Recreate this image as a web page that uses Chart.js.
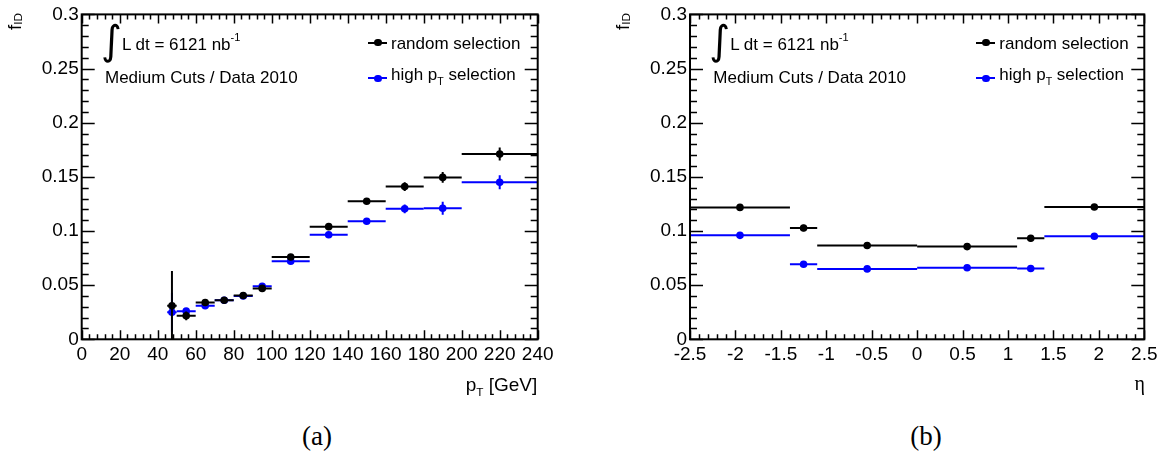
<!DOCTYPE html>
<html>
  <head>
    <script src="https://cdn.jsdelivr.net/npm/chart.js"></script>
  </head>
  <style>
    body {
      margin: 0;
      background: white;
    }
    #page {
      position: relative;
      width: 1164px;
      height: 457px;
      background: white;
      overflow: hidden;
    }
    canvas {
      position: absolute;
      top: 0;
    }
    .t {
      position: absolute;
      font-family: 'Liberation Sans', Arial, sans-serif;
      line-height: 1;
      white-space: nowrap;
      color: black;
    }
    .serif {
      font-family: 'Liberation Serif', 'Times New Roman', serif;
    }
    .sub {
      position: relative;
      font-size: 0.62em;
    }
    .mark {
      position: absolute;
    }
  </style>
  <body>
    <div id="page">
      <canvas id="ptChart" width="580" height="400" style="left:0px"></canvas>
      <canvas id="etaChart" width="584" height="400" style="left:580px"></canvas>
    </div>
    <script>
      // (a) photon pT bins
      const PT_CENTER = [47.5, 55, 65, 75, 85, 95, 110, 130, 150, 170, 190, 220];
      const PT_LOW = [45, 50, 60, 70, 80, 90, 100, 120, 140, 160, 180, 200];
      const PT_HIGH = [50, 60, 70, 80, 90, 100, 120, 140, 160, 180, 200, 240];
      const PT_RANDOM = [0.031, 0.0217, 0.034, 0.036, 0.0405, 0.047, 0.076, 0.104, 0.1275, 0.141, 0.1495, 0.171];
      const PT_RANDOM_ERR = [0.032, 0.004, 0.002, 0.0015, 0.0015, 0.002, 0.002, 0.002, 0.002, 0.004, 0.005, 0.006];
      const PT_HIGHPT = [0.025, 0.026, 0.031, 0.036, 0.040, 0.049, 0.072, 0.0965, 0.109, 0.1205, 0.121, 0.145];
      const PT_HIGHPT_ERR = [0.018, 0.002, 0.0015, 0.0015, 0.0015, 0.002, 0.002, 0.002, 0.002, 0.004, 0.006, 0.0065];

      // (b) eta bins
      const ETA_CENTER = [-1.95, -1.25, -0.55, 0.55, 1.25, 1.95];
      const ETA_LOW = [-2.5, -1.4, -1.1, 0, 1.1, 1.4];
      const ETA_HIGH = [-1.4, -1.1, 0, 1.1, 1.4, 2.5];
      const ETA_RANDOM = [0.1218, 0.1028, 0.0866, 0.0856, 0.0933, 0.1221];
      const ETA_RANDOM_ERR = [0.0015, 0.003, 0.001, 0.001, 0.003, 0.0015];
      const ETA_HIGHPT = [0.096, 0.0693, 0.065, 0.066, 0.0654, 0.0951];
      const ETA_HIGHPT_ERR = [0.001, 0.0015, 0.001, 0.001, 0.0015, 0.001];

      // axis ranges and tick steps
      const Y_RANGE = [0, 0.3];
      const Y_MAJOR = 0.05;
      const Y_MINOR = 0.01;
      const PT_RANGE = [0, 240];
      const PT_MAJOR = 20;
      const PT_MINOR = 4;
      const ETA_RANGE = [-2.5, 2.5];
      const ETA_MAJOR = 0.5;
      const ETA_MINOR = 0.1;

      const SERIES_NAMES = ['random selection', 'high p<span class="sub" style="top:5px">T</span> selection'];
      const COLORS = ['#000000', '#0000ff'];

      const makePoints = (centers, lows, highs, values, errs) =>
        centers.map((c, i) => ({ x: c, y: values[i], xlo: lows[i], xhi: highs[i], ey: errs[i] }));

      // horizontal bin width + vertical error, drawn just before each dataset's markers
      const errorBars = {
        id: 'errorBars',
        beforeDatasetDraw(chart, args) {
          const ds = chart.data.datasets[args.index];
          const { ctx, chartArea: a, scales: { x, y } } = chart;
          ctx.save();
          ctx.beginPath();
          ctx.rect(a.left, a.top, a.right - a.left, a.bottom - a.top);
          ctx.clip();
          ctx.strokeStyle = ds.borderColor;
          ctx.lineWidth = 2;
          ds.data.forEach(p => {
            const py = y.getPixelForValue(p.y);
            const px = x.getPixelForValue(p.x);
            ctx.beginPath();
            ctx.moveTo(x.getPixelForValue(p.xlo), py);
            ctx.lineTo(x.getPixelForValue(p.xhi), py);
            ctx.moveTo(px, y.getPixelForValue(p.y - p.ey));
            ctx.lineTo(px, y.getPixelForValue(p.y + p.ey));
            ctx.stroke();
          });
          ctx.restore();
        }
      };

      // ROOT style frame with inward ticks on all four sides
      const rootFrame = {
        id: 'rootFrame',
        afterDatasetsDraw(chart, args, opts) {
          const { ctx, chartArea: a, scales: { x, y } } = chart;
          ctx.save();
          ctx.strokeStyle = '#000';
          ctx.lineWidth = 1.5;
          ctx.beginPath();
          const nx = Math.round((x.max - x.min) / opts.xMinor);
          for (let i = 0; i <= nx; i++) {
            const v = x.min + i * opts.xMinor;
            const r = (v - x.min) / opts.xMajor;
            const len = Math.abs(r - Math.round(r)) < 1e-6 ? 9 : 5;
            const px = Math.round(x.getPixelForValue(v)) + 0.5;
            ctx.moveTo(px, a.bottom); ctx.lineTo(px, a.bottom - len);
            ctx.moveTo(px, a.top); ctx.lineTo(px, a.top + len);
          }
          const ny = Math.round((y.max - y.min) / opts.yMinor);
          for (let i = 0; i <= ny; i++) {
            const v = y.min + i * opts.yMinor;
            const r = (v - y.min) / opts.yMajor;
            const len = Math.abs(r - Math.round(r)) < 1e-6 ? 13 : 7;
            const py = Math.round(y.getPixelForValue(v)) + 0.5;
            ctx.moveTo(a.left, py); ctx.lineTo(a.left + len, py);
            ctx.moveTo(a.right, py); ctx.lineTo(a.right - len, py);
          }
          ctx.stroke();
          ctx.lineWidth = 2;
          ctx.strokeRect(a.left, a.top, a.right - a.left, a.bottom - a.top);
          ctx.restore();
        }
      };

      const drawPanel = (canvasId, params) => {
        const datasets = params.series.map((points, i) => ({
          label: SERIES_NAMES[i],
          data: points,
          borderColor: COLORS[i],
          backgroundColor: COLORS[i],
          pointRadius: 3.8,
          pointBorderWidth: 0,
          pointHoverRadius: 3.8,
          showLine: false,
        }));
        const tickFont = { family: 'Liberation Sans', size: 19 };
        return new Chart(document.getElementById(canvasId), {
          type: 'scatter',
          data: { datasets: datasets },
          plugins: [errorBars, rootFrame],
          options: {
            responsive: false,
            animation: false,
            events: [],
            layout: {
              padding: { top: 13.5, right: params.padRight, bottom: 30.7, left: 0 }
            },
            scales: {
              x: {
                type: 'linear',
                min: params.xRange[0],
                max: params.xRange[1],
                grid: { display: false, drawTicks: false },
                border: { display: false },
                afterFit: (scale) => { scale.height = 30; },
                ticks: {
                  stepSize: params.xMajor,
                  autoSkip: false,
                  maxRotation: 0,
                  padding: 4,
                  color: '#000',
                  font: tickFont,
                  callback: (v) => String(+v.toFixed(1))
                }
              },
              y: {
                type: 'linear',
                min: Y_RANGE[0],
                max: Y_RANGE[1],
                grid: { display: false, drawTicks: false },
                border: { display: false },
                afterFit: (scale) => { scale.width = params.yWidth; },
                ticks: {
                  stepSize: Y_MAJOR,
                  autoSkip: false,
                  padding: 3,
                  color: '#000',
                  font: tickFont,
                  callback: (v) => String(+v.toFixed(2))
                }
              }
            },
            plugins: {
              legend: { display: false },
              tooltip: { enabled: false },
              rootFrame: { xMajor: params.xMajor, xMinor: params.xMinor, yMajor: Y_MAJOR, yMinor: Y_MINOR }
            }
          }
        });
      };

      const page = document.getElementById('page');
      const addText = (html, style, cls) => {
        const el = document.createElement('div');
        el.className = 't' + (cls ? ' ' + cls : '');
        el.innerHTML = html;
        Object.assign(el.style, style);
        page.appendChild(el);
        return el;
      };
      const addMark = (style) => {
        const el = document.createElement('div');
        el.className = 'mark';
        Object.assign(el.style, style);
        page.appendChild(el);
      };

      const addPanelText = (dx, xTitle, xTitleStyle, caption) => {
        // y title, rotated
        addText('f<span class="sub" style="top:1px">ID</span>', {
          left: (5 + dx) + 'px', top: '63px', width: '50px', textAlign: 'right',
          fontSize: '19px', transform: 'rotate(-90deg)', transformOrigin: '0 0'
        });
        // luminosity and selection note
        addText('&#8747;', { left: (101 + dx) + 'px', top: '20px', fontSize: '40px', fontFamily: 'DejaVu Sans' });
        addText('L dt = 6121 nb<span class="sub" style="top:-9px;font-size:11px">-1</span>',
          { left: (122 + dx) + 'px', top: '35.6px', fontSize: '17px' });
        addText('Medium Cuts / Data 2010', { left: (105 + dx) + 'px', top: '68.9px', fontSize: '17px' });
        // legend
        [42.7, 78.3].forEach((cy, i) => {
          addMark({ left: (368 + dx) + 'px', top: (cy - 1) + 'px', width: '19px', height: '2px', background: COLORS[i] });
          addMark({ left: (374 + dx) + 'px', top: (cy - 3.8) + 'px', width: '7.6px', height: '7.6px', borderRadius: '50%', background: COLORS[i] });
          addText(SERIES_NAMES[i], { left: (391 + dx) + 'px', top: (i === 0 ? 34.6 : 66.3) + 'px', fontSize: '17px' });
        });
        addText(xTitle, xTitleStyle, xTitleStyle.cls);
        addText(caption, { left: (302 + dx) + 'px', top: '423px', fontSize: '27px' }, 'serif');
      };

      drawPanel('ptChart', {
        xRange: PT_RANGE, xMajor: PT_MAJOR, xMinor: PT_MINOR,
        yWidth: 81.7, padRight: 42.3,
        series: [
          makePoints(PT_CENTER, PT_LOW, PT_HIGH, PT_RANDOM, PT_RANDOM_ERR),
          makePoints(PT_CENTER, PT_LOW, PT_HIGH, PT_HIGHPT, PT_HIGHPT_ERR)
        ]
      });
      drawPanel('etaChart', {
        xRange: ETA_RANGE, xMajor: ETA_MAJOR, xMinor: ETA_MINOR,
        yWidth: 110, padRight: 19.7,
        series: [
          makePoints(ETA_CENTER, ETA_LOW, ETA_HIGH, ETA_RANDOM, ETA_RANDOM_ERR),
          makePoints(ETA_CENTER, ETA_LOW, ETA_HIGH, ETA_HIGHPT, ETA_HIGHPT_ERR)
        ]
      });

      addPanelText(0, 'p<span class="sub" style="top:5px">T</span> [GeV]',
        { right: (1164 - 537.3) + 'px', top: '374.9px', fontSize: '19px' }, '(a)');
      addPanelText(608.3, '&#951;',
        { right: (1164 - 1145) + 'px', top: '372.5px', fontSize: '20px', cls: 'serif' }, '(b)');
    </script>
  </body>
</html>
